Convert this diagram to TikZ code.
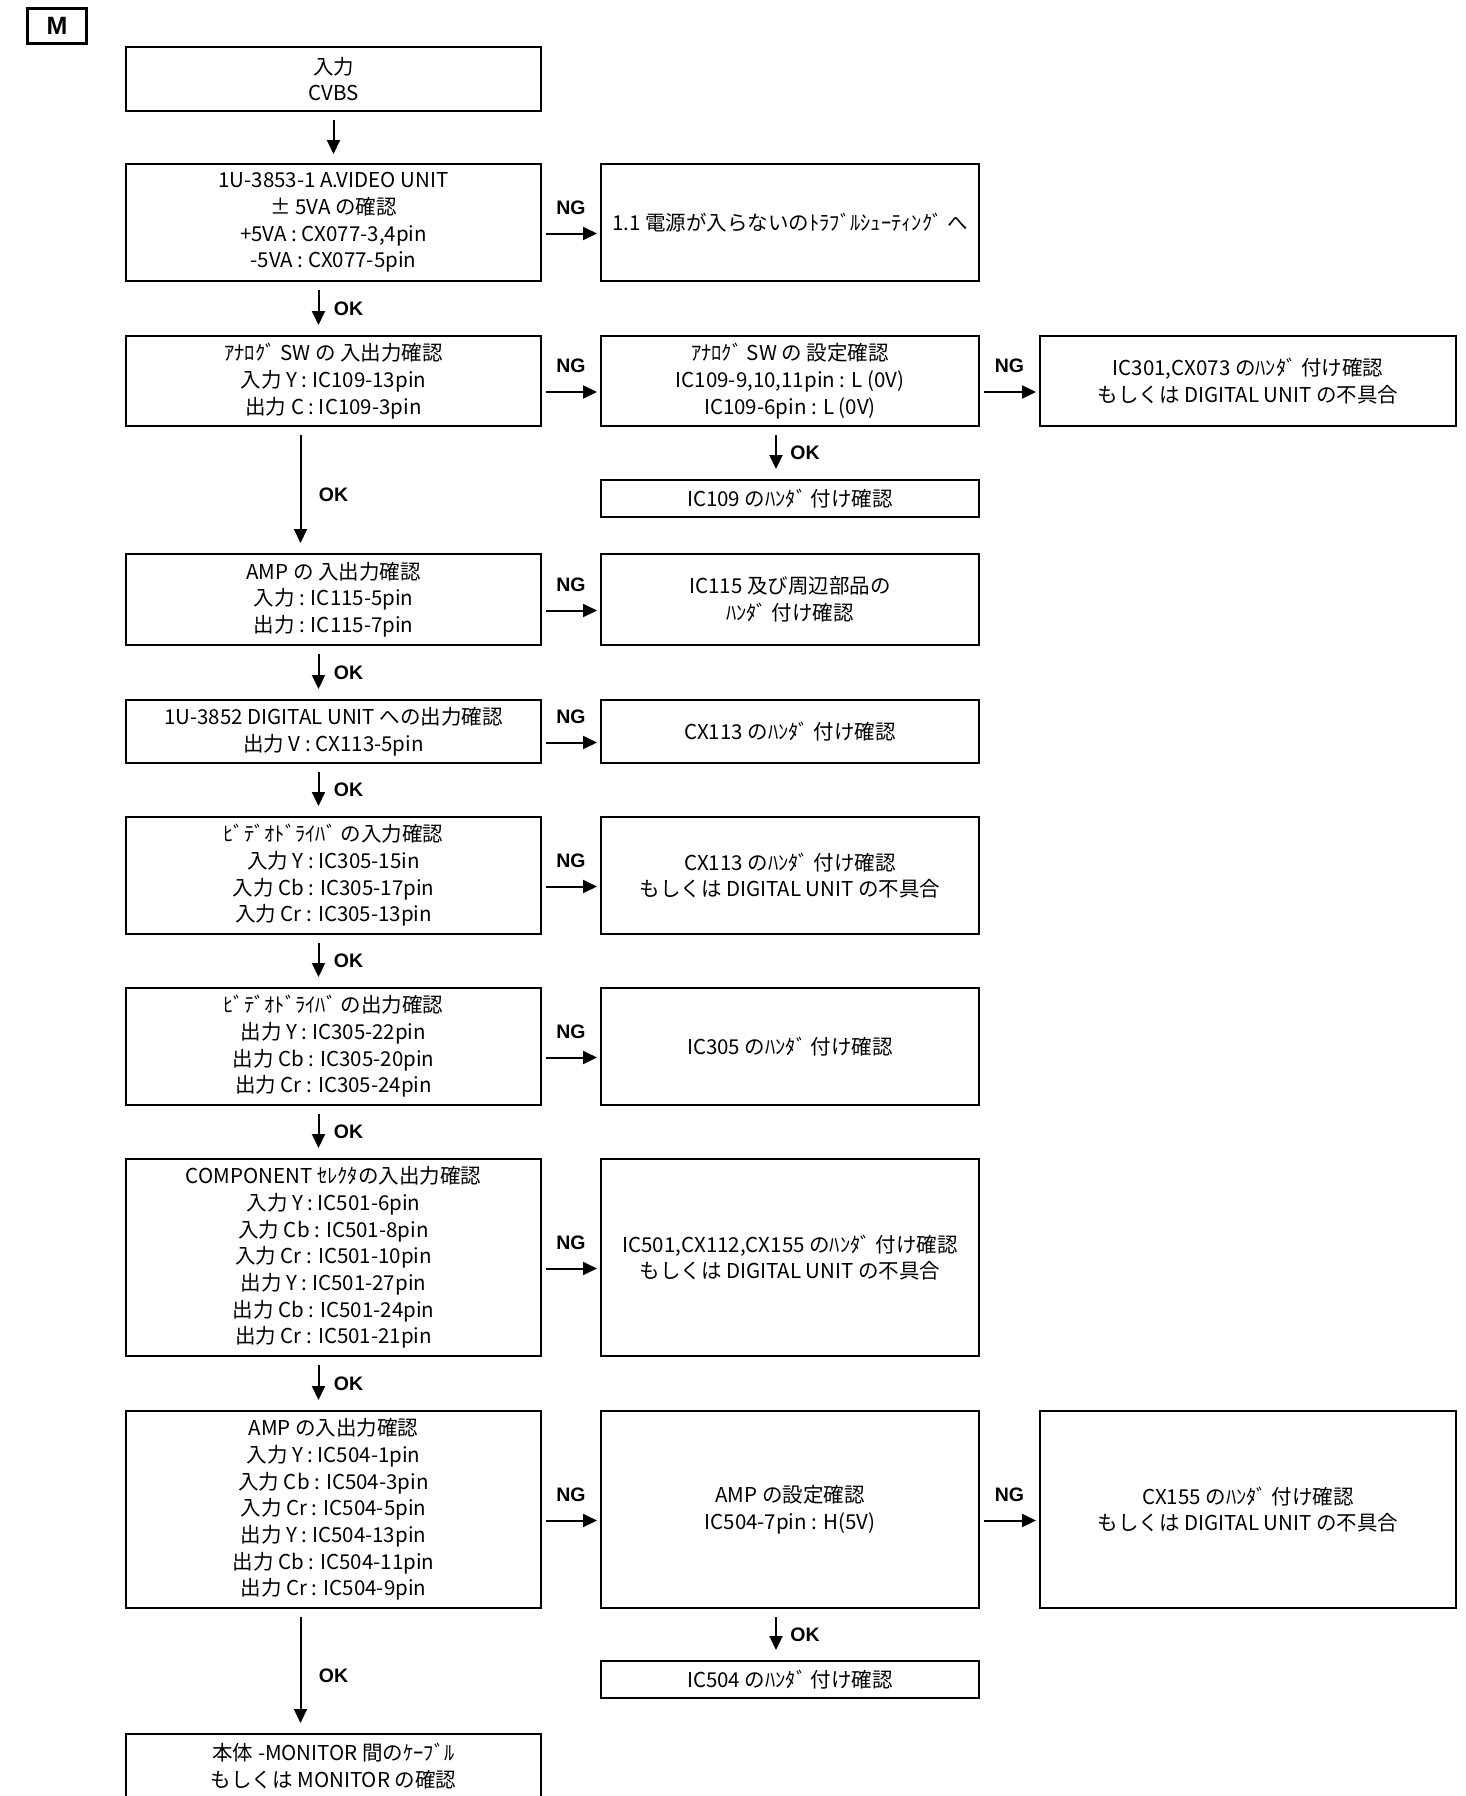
\documentclass[tikz,border=0pt]{standalone}
\usepackage{fontspec}
\setmainfont{Noto Sans CJK JP}
\newfontfamily\tagfont{Liberation Sans}
\usetikzlibrary{arrows.meta,positioning}

\begin{document}
\begin{tikzpicture}[
  x=1pt, y=1pt,
  node distance=54pt and 60pt,
  box/.style={draw, line width=1.3pt, align=center, inner sep=0pt, outer sep=0pt, minimum width=415pt, font=\fontsize{20.5pt}{26.7pt}\selectfont},
  sidebox/.style={box, minimum width=378pt},
  endbox/.style={box, line width=2.8pt, minimum width=416pt},
  tag/.style={font=\tagfont\bfseries\fontsize{19.5pt}{20pt}\selectfont, inner sep=0pt},
  arrow/.style={line width=2pt, -{Triangle[length=14pt,width=13pt]}},
  okarrow/.style={arrow, shorten <=9pt, shorten >=11pt},
  ngarrow/.style={arrow, shorten <=5pt, shorten >=4pt}
]
\useasboundingbox (0,0) rectangle (1465,-1796);

\node[tag, draw, line width=2.6pt, minimum width=59pt, minimum height=35pt, font=\tagfont\bfseries\fontsize{25pt}{26pt}\selectfont] (mark) at (57,-26) {M};

% main column
\node[box, line width=2.6pt, minimum height=64pt] (in) at (333.5,-79) {入力\\CVBS};
\node[box, below=53pt of in, minimum height=117pt] (unit) {1U-3853-1 A.VIDEO UNIT\\± 5VA の確認\\+5VA : CX077-3,4pin\\-5VA : CX077-5pin};
\node[box, below=55pt of unit, minimum height=90pt] (asw) {ｱﾅﾛｸﾞ SW の 入出力確認\\入力 Y : IC109-13pin\\出力 C : IC109-3pin};
\node[box, below=128pt of asw, minimum height=91pt] (amp) {AMP の 入出力確認\\入力 : IC115-5pin\\出力 : IC115-7pin};
\node[box, below=55pt of amp, minimum height=63pt] (dig) {1U-3852 DIGITAL UNIT への出力確認\\出力 V : CX113-5pin};
\node[box, below=54pt of dig, minimum height=117pt] (drvin) {ﾋﾞﾃﾞｵﾄﾞﾗｲﾊﾞ の入力確認\\入力 Y : IC305-15in\\入力 Cb : IC305-17pin\\入力 Cr : IC305-13pin};
\node[box, below=54pt of drvin, minimum height=117pt] (drvout) {ﾋﾞﾃﾞｵﾄﾞﾗｲﾊﾞ の出力確認\\出力 Y : IC305-22pin\\出力 Cb : IC305-20pin\\出力 Cr : IC305-24pin};
\node[box, below=54pt of drvout, minimum height=197pt] (sel) {COMPONENT ｾﾚｸﾀの入出力確認\\入力 Y : IC501-6pin\\入力 Cb : IC501-8pin\\入力 Cr : IC501-10pin\\出力 Y : IC501-27pin\\出力 Cb : IC501-24pin\\出力 Cr : IC501-21pin};
\node[box, below=55pt of sel, minimum height=197pt] (amp2) {AMP の入出力確認\\入力 Y : IC504-1pin\\入力 Cb : IC504-3pin\\入力 Cr : IC504-5pin\\出力 Y : IC504-13pin\\出力 Cb : IC504-11pin\\出力 Cr : IC504-9pin};
\node[box, below=126pt of amp2, minimum height=64pt] (mon) {本体 -MONITOR 間のｹｰﾌﾞﾙ\\もしくは MONITOR の確認};

% NG side
\node[sidebox, right=60pt of unit, minimum height=117pt] (power) {1.1 電源が入らないのﾄﾗﾌﾞﾙｼｭｰﾃｨﾝｸﾞ へ};
\node[sidebox, right=60pt of asw, minimum height=90pt] (aswset) {ｱﾅﾛｸﾞ SW の 設定確認\\IC109-9,10,11pin : L (0V)\\IC109-6pin : L (0V)};
\node[endbox, right=61pt of aswset, minimum height=90pt] (aswng) {IC301,CX073 のﾊﾝﾀﾞ 付け確認\\もしくは DIGITAL UNIT の不具合};
\node[sidebox, below=54pt of aswset, minimum height=37pt] (ic109) {IC109 のﾊﾝﾀﾞ 付け確認};
\node[sidebox, right=60pt of amp, minimum height=91pt] (ampng) {IC115 及び周辺部品の\\ﾊﾝﾀﾞ 付け確認};
\node[sidebox, right=60pt of dig, minimum height=63pt] (digng) {CX113 のﾊﾝﾀﾞ 付け確認};
\node[sidebox, right=60pt of drvin, minimum height=117pt] (drvinng) {CX113 のﾊﾝﾀﾞ 付け確認\\もしくは DIGITAL UNIT の不具合};
\node[sidebox, right=60pt of drvout, minimum height=117pt] (drvoutng) {IC305 のﾊﾝﾀﾞ 付け確認};
\node[sidebox, right=60pt of sel, minimum height=197pt] (selng) {IC501,CX112,CX155 のﾊﾝﾀﾞ 付け確認\\もしくは DIGITAL UNIT の不具合};
\node[sidebox, right=60pt of amp2, minimum height=197pt] (ampset) {AMP の設定確認\\IC504-7pin : H(5V)};
\node[endbox, right=61pt of ampset, minimum height=197pt] (ampsetng) {CX155 のﾊﾝﾀﾞ 付け確認\\もしくは DIGITAL UNIT の不具合};
\node[sidebox, below=53pt of ampset, minimum height=37pt] (ic504) {IC504 のﾊﾝﾀﾞ 付け確認};

% OK arrows
\draw[arrow, shorten <=9pt, shorten >=10pt] (in) -- (unit);
\draw[okarrow] ([xshift=-15pt]unit.south) -- ([xshift=-15pt]asw.north) node[midway, tag, xshift=30pt] {OK};
\draw[okarrow] ([xshift=-33pt]asw.south) -- ([xshift=-33pt]amp.north) node[midway, tag, xshift=33pt, yshift=-5pt] {OK};
\draw[okarrow] ([xshift=-14pt]aswset.south) -- ([xshift=-14pt]ic109.north) node[midway, tag, xshift=29pt] {OK};
\draw[okarrow] ([xshift=-15pt]amp.south) -- ([xshift=-15pt]dig.north) node[midway, tag, xshift=30pt] {OK};
\draw[okarrow] ([xshift=-15pt]dig.south) -- ([xshift=-15pt]drvin.north) node[midway, tag, xshift=30pt] {OK};
\draw[okarrow] ([xshift=-15pt]drvin.south) -- ([xshift=-15pt]drvout.north) node[midway, tag, xshift=30pt] {OK};
\draw[okarrow] ([xshift=-15pt]drvout.south) -- ([xshift=-15pt]sel.north) node[midway, tag, xshift=30pt] {OK};
\draw[okarrow] ([xshift=-15pt]sel.south) -- ([xshift=-15pt]amp2.north) node[midway, tag, xshift=30pt] {OK};
\draw[okarrow] ([xshift=-33pt]amp2.south) -- ([xshift=-33pt]mon.north) node[midway, tag, xshift=33pt, yshift=-5pt] {OK};
\draw[okarrow] ([xshift=-14pt]ampset.south) -- ([xshift=-14pt]ic504.north) node[midway, tag, xshift=29pt] {OK};

% NG arrows
\draw[ngarrow] ([yshift=-11pt]unit.east) -- ([yshift=-11pt]power.west) node[midway, tag, yshift=26pt] {NG};
\draw[ngarrow] ([yshift=-11pt]asw.east) -- ([yshift=-11pt]aswset.west) node[midway, tag, yshift=26pt] {NG};
\draw[ngarrow] ([yshift=-11pt]aswset.east) -- ([yshift=-11pt]aswng.west) node[midway, tag, yshift=26pt] {NG};
\draw[ngarrow] ([yshift=-11pt]amp.east) -- ([yshift=-11pt]ampng.west) node[midway, tag, yshift=26pt] {NG};
\draw[ngarrow] ([yshift=-11pt]dig.east) -- ([yshift=-11pt]digng.west) node[midway, tag, yshift=26pt] {NG};
\draw[ngarrow] ([yshift=-11pt]drvin.east) -- ([yshift=-11pt]drvinng.west) node[midway, tag, yshift=26pt] {NG};
\draw[ngarrow] ([yshift=-11pt]drvout.east) -- ([yshift=-11pt]drvoutng.west) node[midway, tag, yshift=26pt] {NG};
\draw[ngarrow] ([yshift=-11pt]sel.east) -- ([yshift=-11pt]selng.west) node[midway, tag, yshift=26pt] {NG};
\draw[ngarrow] ([yshift=-11pt]amp2.east) -- ([yshift=-11pt]ampset.west) node[midway, tag, yshift=26pt] {NG};
\draw[ngarrow] ([yshift=-11pt]ampset.east) -- ([yshift=-11pt]ampsetng.west) node[midway, tag, yshift=26pt] {NG};

\end{tikzpicture}
\end{document}
